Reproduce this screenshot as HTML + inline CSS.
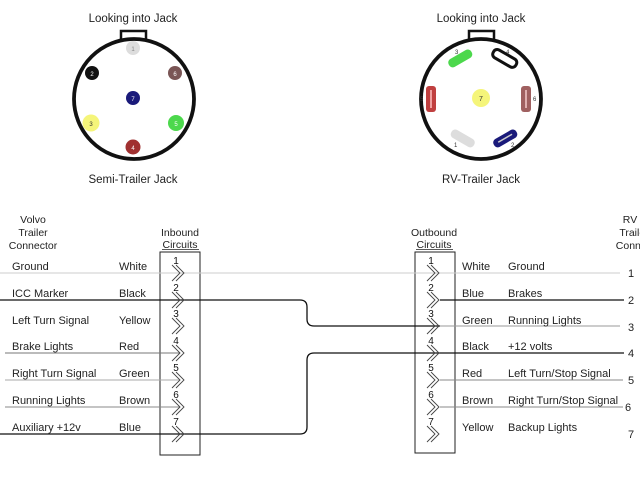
<!DOCTYPE html>
<html><head><meta charset="utf-8"><style>
html,body{margin:0;padding:0;background:#fff;}
svg{display:block;font-family:"Liberation Sans",Arial,sans-serif;}
</style></head><body>
<svg width="640" height="480" viewBox="0 0 640 480" xmlns="http://www.w3.org/2000/svg">
<!-- Semi-trailer jack -->
<text x="133" y="22" font-size="11.5" text-anchor="middle" fill="#222">Looking into Jack</text>
<rect x="121" y="31" width="25" height="9" fill="#fff" stroke="#111" stroke-width="2.5"/>
<circle cx="134" cy="99" r="60" fill="#fff" stroke="#111" stroke-width="3.8"/>
<circle cx="133" cy="48" r="7" fill="#ddd"/><text x="133" y="51" font-size="6" text-anchor="middle" fill="#888">1</text>
<circle cx="92" cy="73" r="7" fill="#111"/><text x="92" y="76" font-size="6" text-anchor="middle" fill="#fff">2</text>
<circle cx="175" cy="73" r="7" fill="#7a5555"/><text x="175" y="76" font-size="6" text-anchor="middle" fill="#fff">6</text>
<circle cx="133" cy="98" r="7" fill="#1a1a7a"/><text x="133" y="101" font-size="6" text-anchor="middle" fill="#fff">7</text>
<circle cx="91" cy="123" r="8.5" fill="#f5f57a"/><text x="91" y="126" font-size="6" text-anchor="middle" fill="#333">3</text>
<circle cx="176" cy="123" r="8" fill="#4cd84c"/><text x="176" y="126" font-size="6" text-anchor="middle" fill="#fff">5</text>
<circle cx="133" cy="147" r="7.5" fill="#a03030"/><text x="133" y="150" font-size="6" text-anchor="middle" fill="#fff">4</text>
<text x="133" y="183" font-size="11.5" text-anchor="middle" fill="#222">Semi-Trailer Jack</text>

<!-- RV jack -->
<text x="481" y="22" font-size="11.5" text-anchor="middle" fill="#222">Looking into Jack</text>
<rect x="469" y="31" width="25" height="9" fill="#fff" stroke="#111" stroke-width="2.5"/>
<circle cx="481" cy="99" r="60" fill="#fff" stroke="#111" stroke-width="3.8"/>
<rect x="447" y="54" width="26" height="9" rx="4" fill="#4cd84c" transform="rotate(-30 460 58)"/>
<text x="455" y="54" font-size="6" fill="#333">3</text>
<rect x="492" y="54" width="26" height="9" rx="4" fill="none" stroke="#111" stroke-width="3" transform="rotate(30 505 58)"/>
<text x="506" y="54" font-size="6" fill="#333">4</text>
<rect x="426" y="86" width="10" height="26" rx="3" fill="#c04040"/><rect x="430" y="90" width="2" height="18" fill="#f0a0a0"/>
<text x="420" y="101" font-size="6" fill="#333">5</text>
<rect x="521" y="86" width="10" height="26" rx="3" fill="#a06060"/><rect x="525" y="90" width="2" height="18" fill="#e0b0b0"/>
<text x="533" y="101" font-size="6" fill="#333">6</text>
<circle cx="481" cy="98" r="9" fill="#f5f57a"/><text x="481" y="101" font-size="7" text-anchor="middle" fill="#333">7</text>
<rect x="450" y="134" width="26" height="9" rx="4" fill="#ddd" transform="rotate(30 463 138)"/>
<text x="454" y="147" font-size="6" fill="#333">1</text>
<rect x="492" y="134" width="26" height="9" rx="4" fill="#1a1a7a" transform="rotate(-30 505 138)"/>
<rect x="497" y="137.5" width="16" height="1.5" fill="#ccc" transform="rotate(-30 505 138)"/>
<text x="511" y="147" font-size="6" fill="#333">2</text>
<text x="481" y="183" font-size="11.5" text-anchor="middle" fill="#222">RV-Trailer Jack</text>

<!-- headers -->
<g font-size="10.5" fill="#222" text-anchor="middle">
<text x="33" y="223">Volvo</text><text x="33" y="236">Trailer</text><text x="33" y="249">Connector</text>
<text x="180" y="236">Inbound</text><text x="180" y="248">Circuits</text>
<text x="434" y="236">Outbound</text><text x="434" y="248">Circuits</text>
<text x="630" y="223">RV</text><text x="634" y="236">Trailer</text><text x="640" y="249">Connector</text>
</g>
<line x1="162" y1="249.5" x2="199" y2="249.5" stroke="#222" stroke-width="0.8"/>
<line x1="416" y1="249.5" x2="453" y2="249.5" stroke="#222" stroke-width="0.8"/>

<!-- boxes -->
<rect x="160" y="252" width="40" height="203" fill="none" stroke="#222" stroke-width="1"/>
<rect x="415" y="252" width="40" height="201" fill="none" stroke="#222" stroke-width="1"/>

<!-- wires -->
<g fill="none">
<line x1="0" y1="273" x2="620" y2="273" stroke="#ccc" stroke-width="1"/>
<path d="M0 300 H300 q7 0 7 7 V319 q0 7 7 7 H440" stroke="#111" stroke-width="1.3"/>
<line x1="440" y1="300" x2="624" y2="300" stroke="#111" stroke-width="1.3"/>
<line x1="440" y1="326" x2="620" y2="326" stroke="#999" stroke-width="1"/>
<line x1="5" y1="353" x2="180" y2="353" stroke="#777" stroke-width="1"/>
<path d="M0 434 H300 q7 0 7 -7 V360 q0 -7 7 -7 H624" stroke="#111" stroke-width="1.3"/>
<line x1="5" y1="380" x2="180" y2="380" stroke="#aaa" stroke-width="1"/>
<line x1="5" y1="407" x2="180" y2="407" stroke="#888" stroke-width="1"/>
<line x1="440" y1="380" x2="623" y2="380" stroke="#888" stroke-width="1"/>
<line x1="440" y1="407" x2="623" y2="407" stroke="#888" stroke-width="1"/>
</g>

<!-- chevrons -->
<g fill="none" stroke="#444" stroke-width="0.9">
<path id="c" d="M172 265 L180 273 L172 281 M176 265 L184 273 L176 281"/>
<use href="#c" y="27"/><use href="#c" y="53"/><use href="#c" y="80"/><use href="#c" y="107"/><use href="#c" y="134"/><use href="#c" y="161"/>
<use href="#c" x="255"/><use href="#c" x="255" y="27"/><use href="#c" x="255" y="53"/><use href="#c" x="255" y="80"/><use href="#c" x="255" y="107"/><use href="#c" x="255" y="134"/><use href="#c" x="255" y="161"/>
</g>

<g font-size="10" fill="#111" text-anchor="middle">
<text x="176" y="264">1</text><text x="176" y="291">2</text><text x="176" y="317">3</text><text x="176" y="344">4</text><text x="176" y="371">5</text><text x="176" y="398">6</text><text x="176" y="425">7</text>
<text x="431" y="264">1</text><text x="431" y="291">2</text><text x="431" y="317">3</text><text x="431" y="344">4</text><text x="431" y="371">5</text><text x="431" y="398">6</text><text x="431" y="425">7</text>
</g>

<g font-size="11" fill="#222">
<text x="12" y="270">Ground</text><text x="119" y="270">White</text>
<text x="12" y="297">ICC Marker</text><text x="119" y="297">Black</text>
<text x="12" y="324">Left Turn Signal</text><text x="119" y="324">Yellow</text>
<text x="12" y="350">Brake Lights</text><text x="119" y="350">Red</text>
<text x="12" y="377">Right Turn Signal</text><text x="119" y="377">Green</text>
<text x="12" y="404">Running Lights</text><text x="119" y="404">Brown</text>
<text x="12" y="431">Auxiliary +12v</text><text x="119" y="431">Blue</text>

<text x="462" y="270">White</text><text x="508" y="270">Ground</text>
<text x="462" y="297">Blue</text><text x="508" y="297">Brakes</text>
<text x="462" y="324">Green</text><text x="508" y="324">Running Lights</text>
<text x="462" y="350">Black</text><text x="508" y="350">+12 volts</text>
<text x="462" y="377">Red</text><text x="508" y="377">Left Turn/Stop Signal</text>
<text x="462" y="404">Brown</text><text x="508" y="404">Right Turn/Stop Signal</text>
<text x="462" y="431">Yellow</text><text x="508" y="431">Backup Lights</text>

<text x="628" y="277">1</text><text x="628" y="304">2</text><text x="628" y="331">3</text><text x="628" y="357">4</text><text x="628" y="384">5</text><text x="625" y="411">6</text><text x="628" y="438">7</text>
</g>
</svg>
</body></html>
